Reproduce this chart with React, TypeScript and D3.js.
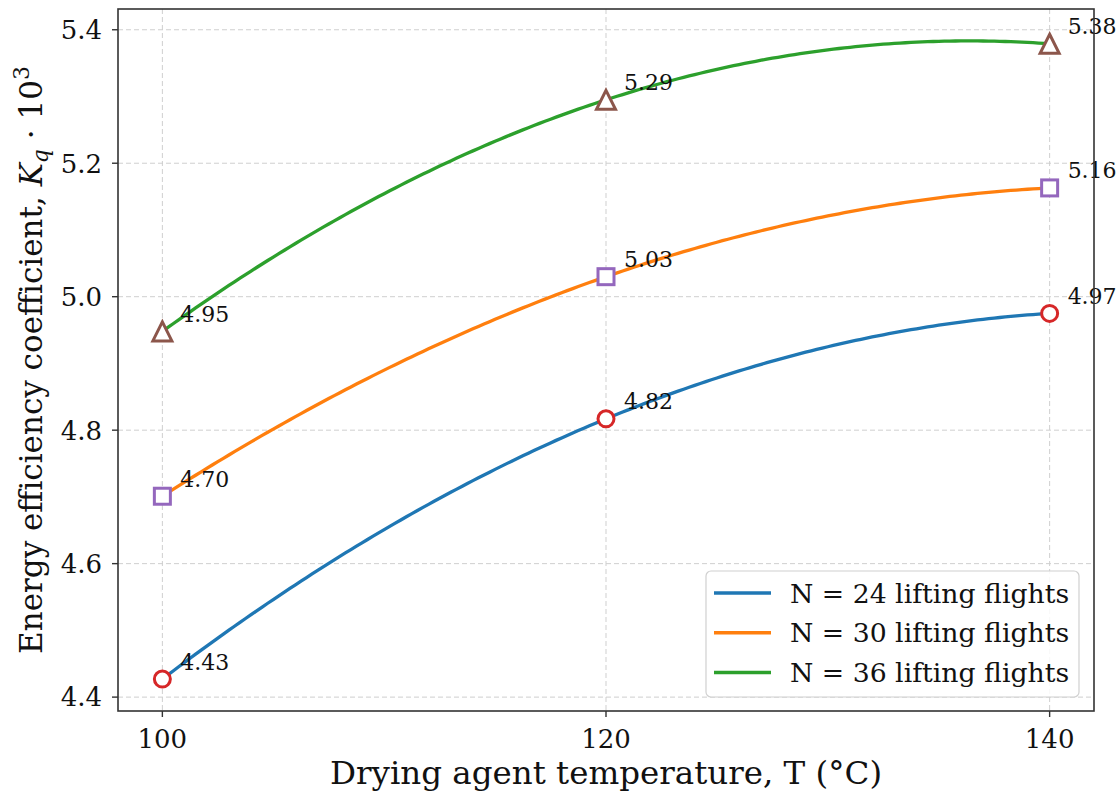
import React from "react";
import * as d3 from "d3";

const temperatures = [100, 120, 140];
const seriesNames = ["N = 24 lifting flights", "N = 30 lifting flights", "N = 36 lifting flights"];
const values24 = [4.427, 4.817, 4.975];
const values30 = [4.701, 5.03, 5.163];
const values36 = [4.948, 5.295, 5.379];
const lineColors = ["#1f77b4", "#ff7f0e", "#2ca02c"];
const markerColors = ["#d62728", "#9467bd", "#8c564b"];
const markerShapes = ["circle", "square", "triangle"];
const xTicks = [100, 120, 140];
const yTicks = [4.4, 4.6, 4.8, 5.0, 5.2, 5.4];

const W = 1119;
const H = 793;
const M = { left: 118, right: 1094, top: 9, bottom: 711 };
const FONT = "'DejaVu Serif', serif";

// quadratic (Lagrange) interpolation through the three measured points
function quad(xs: number[], ys: number[], x: number) {
  let s = 0;
  for (let i = 0; i < xs.length; i++) {
    let p = ys[i];
    for (let j = 0; j < xs.length; j++) if (j !== i) p *= (x - xs[j]) / (xs[i] - xs[j]);
    s += p;
  }
  return s;
}

export default function App() {
  const series = [values24, values30, values36];
  const samples = d3.range(temperatures[0], temperatures[2] + 0.001, 0.25);
  const curves = series.map((vals) => samples.map((s) => [s, quad(temperatures, vals, s)] as [number, number]));
  const allY = curves.flat().map((d) => d[1]);
  const yMin = d3.min(allY) as number;
  const yMax = d3.max(allY) as number;
  const pad = (yMax - yMin) * 0.05;
  const xPad = (temperatures[2] - temperatures[0]) * 0.05;

  const x = d3.scaleLinear().domain([temperatures[0] - xPad, temperatures[2] + xPad]).range([M.left, M.right]);
  const y = d3.scaleLinear().domain([yMin - pad, yMax + pad]).range([M.bottom, M.top]);
  const line = d3
    .line<[number, number]>()
    .x((d) => x(d[0]))
    .y((d) => y(d[1]));

  const marker = (shape: string, cx: number, cy: number, color: string, key: string) => {
    if (shape === "circle")
      return <circle key={key} cx={cx} cy={cy} r={8} fill="white" stroke={color} strokeWidth={3} />;
    if (shape === "square")
      return <rect key={key} x={cx - 8} y={cy - 8} width={16} height={16} fill="white" stroke={color} strokeWidth={3} />;
    const s = 9.5;
    return (
      <path
        key={key}
        d={`M${cx},${cy - s} L${cx + s},${cy + s} L${cx - s},${cy + s} Z`}
        fill="white"
        stroke={color}
        strokeWidth={3}
        strokeLinejoin="miter"
      />
    );
  };

  return (
    <svg width={W} height={H} style={{ position: "absolute", left: 0, top: 0, background: "white" }} fontFamily={FONT}>
      <rect x={0} y={0} width={W} height={H} fill="white" />
      {/* grid */}
      {xTicks.map((t) => (
        <line key={"gx" + t} x1={x(t)} x2={x(t)} y1={M.top} y2={M.bottom} stroke="#cfcfcf" strokeWidth={1} strokeDasharray="5,3" />
      ))}
      {yTicks.map((t) => (
        <line key={"gy" + t} x1={M.left} x2={M.right} y1={y(t)} y2={y(t)} stroke="#cfcfcf" strokeWidth={1} strokeDasharray="5,3" />
      ))}
      {/* curves */}
      {curves.map((c, i) => (
        <path key={"l" + i} d={line(c) || ""} fill="none" stroke={lineColors[i]} strokeWidth={3.3} />
      ))}
      {/* markers */}
      {series.map((vals, i) =>
        vals.map((v, j) => marker(markerShapes[i], x(temperatures[j]), y(v), markerColors[i], `m${i}-${j}`))
      )}
      {/* annotations */}
      {series.map((vals, i) =>
        vals.map((v, j) => (
          <text key={`a${i}-${j}`} x={x(temperatures[j]) + 18} y={y(v) - 9.5} fontSize={22} fill="#111">
            {v.toFixed(2)}
          </text>
        ))
      )}
      {/* spines */}
      <rect x={M.left} y={M.top} width={M.right - M.left} height={M.bottom - M.top} fill="none" stroke="#333" strokeWidth={1.6} />
      {/* ticks */}
      {xTicks.map((t) => (
        <g key={"tx" + t}>
          <line x1={x(t)} x2={x(t)} y1={M.bottom} y2={M.bottom + 6} stroke="#333" strokeWidth={1.4} />
          <text x={x(t)} y={M.bottom + 37} textAnchor="middle" fontSize={26} fill="#111">
            {t}
          </text>
        </g>
      ))}
      {yTicks.map((t) => (
        <g key={"ty" + t}>
          <line x1={M.left - 6} x2={M.left} y1={y(t)} y2={y(t)} stroke="#333" strokeWidth={1.4} />
          <text x={M.left - 16} y={y(t)} dy="0.36em" textAnchor="end" fontSize={26} fill="#111">
            {t.toFixed(1)}
          </text>
        </g>
      ))}
      {/* axis labels */}
      <text x={(M.left + M.right) / 2} y={784} textAnchor="middle" fontSize={32.5} fill="#111">
        Drying agent temperature, T (°C)
      </text>
      <text transform={`translate(42, ${(M.top + M.bottom) / 2}) rotate(-90)`} textAnchor="middle" fontSize={31} fill="#111">
        Energy efficiency coefficient,{" "}
        <tspan fontStyle="italic">K</tspan>
        <tspan fontStyle="italic" fontSize={22} dy={6}>q</tspan>
        <tspan dy={-6}> · 10</tspan>
        <tspan fontSize={22} dy={-13}>3</tspan>
      </text>
      {/* legend */}
      <rect x={706} y={571} width={373} height={126} rx={5} fill="white" fillOpacity={0.85} stroke="#d0d0d0" strokeWidth={1.2} />
      {seriesNames.map((n, i) => (
        <g key={"lg" + i}>
          <line x1={714} x2={771} y1={593 + i * 39.7} y2={593 + i * 39.7} stroke={lineColors[i]} strokeWidth={3.5} />
          <text x={790} y={593 + i * 39.7} dy="0.36em" fontSize={26.7} fill="#111">
            {n}
          </text>
        </g>
      ))}
    </svg>
  );
}
